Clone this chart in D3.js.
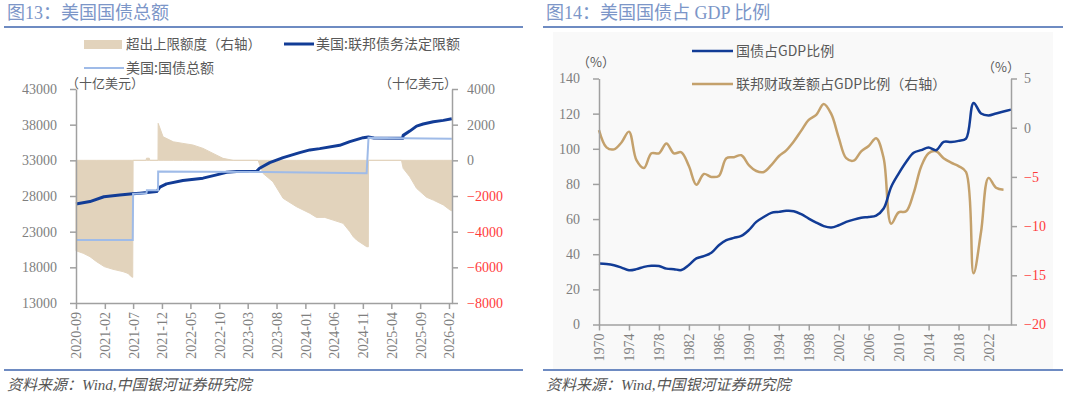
<!DOCTYPE html>
<html>
<head>
<meta charset="utf-8">
<script src="https://cdn.jsdelivr.net/npm/d3@7"></script>
<style>
    body { margin: 0; background: #fff; }
    svg { display: block; font-family: "Liberation Serif", "Noto Sans CJK SC", serif; }
</style>
</head>
<body>
<svg id="chart" width="1080" height="399"></svg>
<script>
// ---- 图13 data (十亿美元) ----
// dark blue line, legend "美国:联邦债务法定限额"
let debtLimitLine = [
    ["2020-09-01", 26880], ["2020-11-14", 27220], ["2021-01-27", 27900], ["2021-04-21", 28140],
    ["2021-06-29", 28300], ["2021-08-06", 28390], ["2021-11-03", 28620], ["2021-11-20", 29250],
    ["2021-12-25", 29700], ["2022-03-22", 30170], ["2022-07-07", 30500], ["2022-09-17", 30960],
    ["2022-11-09", 31330], ["2023-01-01", 31420], ["2023-04-16", 31420], ["2023-05-03", 31890],
    ["2023-06-26", 32680], ["2023-09-05", 33380], ["2023-12-02", 34080], ["2024-01-25", 34460],
    ["2024-03-17", 34640], ["2024-07-01", 35100], ["2024-08-24", 35620], ["2024-11-03", 36180],
    ["2024-11-30", 36270], ["2024-12-30", 36140], ["2025-05-31", 36080], ["2025-06-03", 36500],
    ["2025-07-08", 37100], ["2025-08-13", 37800], ["2025-09-17", 38090], ["2025-11-10", 38420],
    ["2026-01-02", 38600], ["2026-02-16", 38840]
];
// light blue line, legend "美国:国债总额"
let debtTotalLine = [
    ["2020-09-01", 21830], ["2021-06-29", 21830], ["2021-07-01", 28300], ["2021-09-10", 28390],
    ["2021-09-12", 28800], ["2021-11-10", 28800], ["2021-11-11", 31420], ["2023-06-01", 31350],
    ["2024-11-21", 31180], ["2024-12-01", 36180], ["2025-06-01", 36080], ["2026-02-16", 36040]
];
// beige area, right axis
let excessAmount = [
    ["2020-09-01", -5070], ["2020-10-09", -5210], ["2020-11-14", -5400], ["2020-12-19", -5680],
    ["2021-01-29", -5960], ["2021-03-16", -6110], ["2021-05-08", -6240], ["2021-06-04", -6340],
    ["2021-06-22", -6530], ["2021-06-29", -6560], ["2021-07-01", 0], ["2021-09-08", 0],
    ["2021-09-10", 120], ["2021-09-25", 120], ["2021-09-27", 0], ["2021-11-10", 0],
    ["2021-11-11", 2075], ["2021-12-07", 1320], ["2022-01-30", 1040], ["2022-03-22", 950],
    ["2022-05-14", 860], ["2022-07-07", 670], ["2022-08-29", 390], ["2022-10-21", 110],
    ["2022-12-14", 0], ["2023-04-25", 0], ["2023-05-21", -730], ["2023-07-13", -1200],
    ["2023-09-05", -2130], ["2023-11-15", -2600], ["2024-01-25", -2970], ["2024-02-29", -3200],
    ["2024-04-13", -3200], ["2024-05-27", -3350], ["2024-07-19", -3530], ["2024-08-24", -4000],
    ["2024-09-11", -4280], ["2024-09-29", -4470], ["2024-11-21", -4840], ["2024-11-30", -4850],
    ["2024-12-01", 0], ["2025-05-25", 0], ["2025-06-03", -450], ["2025-07-08", -920],
    ["2025-08-13", -1570], ["2025-10-05", -2070], ["2025-11-10", -2230], ["2026-01-02", -2500],
    ["2026-02-07", -2790], ["2026-02-16", -2830]
];
let monthTicks = ["2020-09", "2021-02", "2021-07", "2021-12", "2022-05", "2022-10", "2023-03",
    "2023-08", "2024-01", "2024-06", "2024-11", "2025-04", "2025-09", "2026-02"];
let leftTicks13 = [13000, 18000, 23000, 28000, 33000, 38000, 43000];
let rightTicks13 = [-8000, -6000, -4000, -2000, 0, 2000, 4000];

// ---- 图14 data (%) ----
let years = d3.range(1970, 2026);
let debtToGdp = [34.7, 34.4, 33.7, 32.4, 30.9, 31.5, 32.8, 33.4, 33.3, 31.8,
    31.5, 31.0, 33.9, 37.6, 38.9, 40.8, 45.1, 48.0, 49.3, 50.4,
    53.7, 58.4, 61.2, 63.5, 64.1, 64.7, 64.5, 62.8, 60.3, 58.0,
    56.0, 55.2, 56.5, 58.4, 59.7, 60.7, 61.2, 62.0, 66.0, 78.3,
    85.9, 92.5, 97.7, 99.2, 100.7, 99.2, 103.9, 103.9, 104.5, 105.8,
    126.1, 120.1, 119.0, 120.1, 121.2, 122.3];
let deficitToGdp = [-0.24, -2.0, -2.2, -1.5, -0.4, -3.3, -4.1, -2.6, -2.6, -1.6,
    -2.6, -2.5, -3.9, -5.8, -4.7, -5.0, -4.9, -3.1, -3.0, -2.8,
    -3.8, -4.4, -4.5, -3.8, -2.9, -2.3, -1.4, -0.3, 0.8, 1.3,
    2.4, 1.4, -1.0, -3.1, -3.35, -2.4, -1.86, -1.08, -3.1, -9.76,
    -8.6, -8.5, -6.65, -3.96, -2.6, -2.4, -3.1, -3.55, -3.9, -4.5,
    -14.8, -10.6, -5.1, -6.1, -6.3];
let yearTicks = d3.range(1970, 2023, 4);
let leftTicks14 = [0, 20, 40, 60, 80, 100, 120, 140];
let rightTicks14 = [-20, -15, -10, -5, 0, 5];

const svg = d3.select("#chart");
const parseDay = d3.timeParse("%Y-%m-%d");
const parseMonth = d3.timeParse("%Y-%m");
const axisGray = "#a0a0a0";
const labelGray = "#7f7f7f";
const textGray = "#595959";
const red = "#ff3b3b";
const darkBlue = "#123c96";
const lightBlue = "#9fbbe8";
const beige = "#e2d3bc";
const gold = "#c4a16c";

function frame(x0, x1, title) {
    svg.append("text")
        .attr("x", x0 + 3)
        .attr("y", 19)
        .style("font-size", "18px")
        .style("fill", "#7c96c8")
        .text(title);

    svg.append("line")
        .attr("x1", x0).attr("x2", x1)
        .attr("y1", 27).attr("y2", 27)
        .style("stroke", "#6e8bc2")
        .style("stroke-width", 2);

    svg.append("line")
        .attr("x1", x0).attr("x2", x1)
        .attr("y1", 370).attr("y2", 370)
        .style("stroke", "#6e8bc2")
        .style("stroke-width", 2);

    svg.append("text")
        .attr("x", x0 + 3)
        .attr("y", 390)
        .style("font-size", "15px")
        .style("font-style", "italic")
        .style("fill", "#555")
        .text("资料来源：Wind,中国银河证券研究院");
}

function styleAxis(g) {
    g.select(".domain").style("stroke", axisGray).style("stroke-width", 1.5);
    g.selectAll(".tick line").style("stroke", axisGray).style("stroke-width", 1.5);
    g.selectAll(".tick text")
        .style("fill", labelGray)
        .style("font-size", "14px")
        .style("font-family", "Liberation Serif, serif");
}

function rotateLabels(g) {
    g.selectAll(".tick text")
        .attr("y", 0)
        .attr("x", -9)
        .attr("dy", "0.35em")
        .attr("transform", "rotate(-90)")
        .style("text-anchor", "end");
}

function legendText(x, y, label, size) {
    svg.append("text")
        .attr("x", x)
        .attr("y", y)
        .style("font-size", (size || 14) + "px")
        .style("fill", textGray)
        .style("font-family", "Noto Sans CJK SC, sans-serif")
        .text(label);
}

// ================= 图13 =================
frame(4, 523, "图13：美国国债总额");

let xL = d3.scaleTime()
    .domain([parseDay("2020-09-01"), parseDay("2026-02-17")])
    .range([76, 452]);
let yL = d3.scaleLinear().domain([13000, 43000]).range([303, 89]);
let yR = d3.scaleLinear().domain([-8000, 4000]).range([303, 89]);

let areaData = excessAmount.map(d => ({ date: parseDay(d[0]), v: d[1] }));
svg.append("path")
    .datum(areaData)
    .attr("d", d3.area()
        .x(d => xL(d.date))
        .y0(yR(0))
        .y1(d => yR(d.v)))
    .style("fill", beige)
    .style("stroke", beige)
    .style("stroke-width", 1);

let lineL = d3.line().x(d => xL(d.date)).y(d => yL(d.v));

svg.append("path")
    .datum(debtLimitLine.map(d => ({ date: parseDay(d[0]), v: d[1] })))
    .attr("d", lineL)
    .style("fill", "none")
    .style("stroke", darkBlue)
    .style("stroke-width", 3)
    .style("stroke-linejoin", "round");

svg.append("path")
    .datum(debtTotalLine.map(d => ({ date: parseDay(d[0]), v: d[1] })))
    .attr("d", lineL)
    .style("fill", "none")
    .style("stroke", lightBlue)
    .style("stroke-width", 2);

let gx13 = svg.append("g")
    .attr("transform", "translate(0,303)")
    .call(d3.axisBottom(xL)
        .tickValues(monthTicks.map(parseMonth))
        .tickFormat(d3.timeFormat("%Y-%m"))
        .tickSize(6).tickSizeOuter(0));
styleAxis(gx13);
rotateLabels(gx13);

let gyl13 = svg.append("g")
    .attr("transform", "translate(76,0)")
    .call(d3.axisLeft(yL).tickValues(leftTicks13).tickFormat(d3.format("d"))
        .tickSize(6).tickSizeOuter(0).tickPadding(13));
styleAxis(gyl13);

let gyr13 = svg.append("g")
    .attr("transform", "translate(452,0)")
    .call(d3.axisRight(yR).tickValues(rightTicks13).tickFormat(d3.format("d"))
        .tickSize(6).tickSizeOuter(0).tickPadding(9));
styleAxis(gyr13);
gyr13.selectAll(".tick text").style("fill", d => d < 0 ? red : labelGray);

legendText(66, 88, "（十亿美元）", 13);
svg.append("text")
    .attr("x", 457).attr("y", 88)
    .style("text-anchor", "end")
    .style("font-size", "13px")
    .style("fill", textGray)
    .style("font-family", "Noto Sans CJK SC, sans-serif")
    .text("（十亿美元）");

// legend
svg.append("rect")
    .attr("x", 84).attr("y", 40)
    .attr("width", 38).attr("height", 9)
    .style("fill", beige);
legendText(126, 49, "超出上限额度（右轴）", 13.5);

svg.append("line")
    .attr("x1", 284).attr("x2", 314)
    .attr("y1", 44).attr("y2", 44)
    .style("stroke", darkBlue).style("stroke-width", 3);
legendText(316, 49, "美国:联邦债务法定限额");

svg.append("line")
    .attr("x1", 84).attr("x2", 124)
    .attr("y1", 68).attr("y2", 68)
    .style("stroke", lightBlue).style("stroke-width", 2);
legendText(126, 73, "美国:国债总额");

// ================= 图14 =================
svg.append("rect")
    .attr("x", 553).attr("y", 32)
    .attr("width", 500).attr("height", 337)
    .style("fill", "#f9f9f9");

frame(543, 1063, "图14：美国国债占 GDP 比例");

let xR = d3.scaleLinear().domain([1970, 2025]).range([599, 1011]);
let yRL = d3.scaleLinear().domain([0, 140]).range([324.5, 78.5]);
let yRR = d3.scaleLinear().domain([-20, 5]).range([324.5, 78.5]);

svg.append("path")
    .datum(years.slice(0, deficitToGdp.length).map((y, i) => ({ yr: y, v: deficitToGdp[i] })))
    .attr("d", d3.line().x(d => xR(d.yr)).y(d => yRR(d.v)).curve(d3.curveCatmullRom.alpha(0.5)))
    .style("fill", "none")
    .style("stroke", gold)
    .style("stroke-width", 2.5);

svg.append("path")
    .datum(years.map((y, i) => ({ yr: y, v: debtToGdp[i] })))
    .attr("d", d3.line().x(d => xR(d.yr)).y(d => yRL(d.v)).curve(d3.curveCatmullRom.alpha(0.5)))
    .style("fill", "none")
    .style("stroke", darkBlue)
    .style("stroke-width", 2.5);

let gx14 = svg.append("g")
    .attr("transform", "translate(0,324.5)")
    .call(d3.axisBottom(xR).tickValues(yearTicks).tickFormat(d3.format("d"))
        .tickSize(6).tickSizeOuter(0));
styleAxis(gx14);
rotateLabels(gx14);

let gyl14 = svg.append("g")
    .attr("transform", "translate(599,0)")
    .call(d3.axisLeft(yRL).tickValues(leftTicks14).tickSize(6).tickSizeOuter(0).tickPadding(13));
styleAxis(gyl14);

let gyr14 = svg.append("g")
    .attr("transform", "translate(1011,0)")
    .call(d3.axisRight(yRR).tickValues(rightTicks14).tickSize(6).tickSizeOuter(0).tickPadding(7));
styleAxis(gyr14);
gyr14.selectAll(".tick text").style("fill", d => d < 0 ? red : labelGray);

legendText(577, 67, "（%）", 13);
legendText(982, 72, "（%）", 13);

svg.append("line")
    .attr("x1", 692).attr("x2", 733)
    .attr("y1", 51).attr("y2", 51)
    .style("stroke", darkBlue).style("stroke-width", 2.5);
legendText(736, 56, "国债占GDP比例");

svg.append("line")
    .attr("x1", 692).attr("x2", 733)
    .attr("y1", 84).attr("y2", 84)
    .style("stroke", gold).style("stroke-width", 2.5);
legendText(736, 89, "联邦财政差额占GDP比例（右轴）");
</script>
</body>
</html>
